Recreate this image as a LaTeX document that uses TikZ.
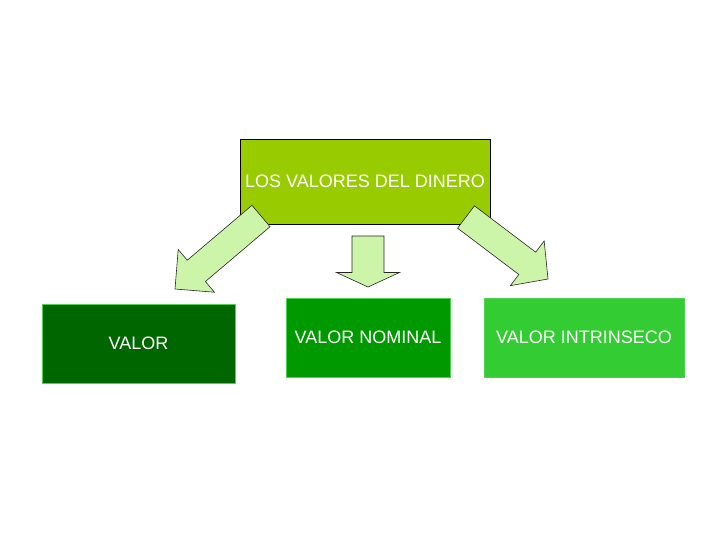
\documentclass[tikz,border=0pt]{standalone}
\usepackage{fontspec}
\setmainfont{Liberation Sans}
\usetikzlibrary{calc}
\definecolor{olivo}{HTML}{99CC00}
\definecolor{oscuro}{HTML}{006600}
\definecolor{medio}{HTML}{009900}
\definecolor{claro}{HTML}{33CC33}
\definecolor{borde}{HTML}{4CD24C}
\definecolor{flecha}{HTML}{CCF5AA}
% block arrow: start, tip, half shaft width, half head width, head length
\newcommand\flechabloque[5]{%
  \coordinate (fm) at ($(#2)!#5!(#1)$);
  \draw[fl] ($(#1)!#3!90:(#2)$) -- ($(fm)!#3!-90:(#1)$) -- ($(fm)!#4!-90:(#1)$)
    -- (#2) -- ($(fm)!#4!90:(#1)$) -- ($(fm)!#3!90:(#1)$) -- ($(#1)!#3!-90:(#2)$) -- cycle;}

\begin{document}
\begin{tikzpicture}[x=1pt,y=-1pt,
  b/.style={draw=borde,minimum height=79pt,text=white,font=\fontsize{18}{21}\selectfont},
  fl/.style={draw=black!85,fill=flecha,line width=0.6pt,line join=miter}]
\useasboundingbox (0,0) rectangle (720,540);
\node[b,draw=black,fill=olivo,minimum width=250pt,minimum height=85pt] (d) at (365,181.5) {\raisebox{-3pt}{LOS VALORES DEL DINERO}};
\node[b,fill=oscuro,minimum width=193pt] (v) at (138.5,343.5) {VALOR};
\node[b,fill=medio,minimum width=164pt] (n) at (368,337.5) {VALOR NOMINAL};
\node[b,fill=claro,minimum width=200pt] (i) at (584,337.5) {VALOR INTRINSECO};
% arrows
\coordinate (s1) at (261,216); \coordinate (t1) at (175,289);
\coordinate (s2) at (368,236); \coordinate (t2) at (368,287);
\coordinate (s3) at (466,217); \coordinate (t3) at (548,279);
\flechabloque{s1}{t1}{14pt}{28pt}{28pt}
\flechabloque{s2}{t2}{16pt}{31.5pt}{14.5pt}
\flechabloque{s3}{t3}{14pt}{28pt}{26pt}
\end{tikzpicture}
\end{document}
